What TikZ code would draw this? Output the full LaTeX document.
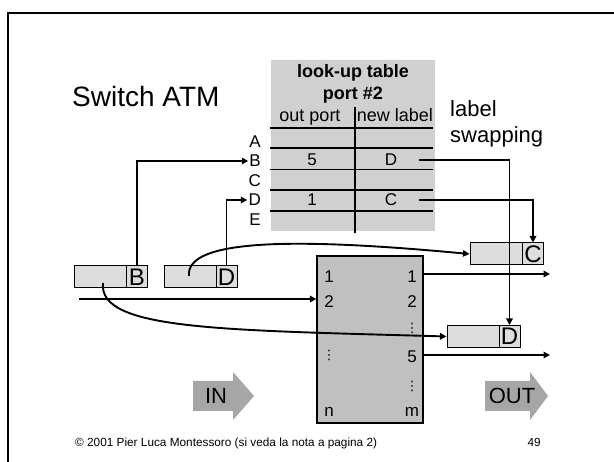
\documentclass[tikz,border=0pt]{standalone}
\usepackage{fontspec}
\setmainfont{Liberation Sans}
\newfontfamily\dejavu{DejaVu Sans}
\usetikzlibrary{arrows.meta}
\definecolor{tabgray}{RGB}{208,208,208}
\definecolor{swgray}{RGB}{192,192,192}
\definecolor{cellgray}{RGB}{221,221,221}
\definecolor{arrgray}{RGB}{166,166,166}
\begin{document}
\begin{tikzpicture}[x=1pt,y=-1pt,
  conn/.style={line width=1.9pt,-{Triangle[length=6.5pt,width=6.5pt]}},
  body/.style={draw,fill=cellgray,line width=1pt,minimum height=22pt,inner sep=0pt},
  tagbox/.style={draw,fill=cellgray,line width=1pt,minimum height=22pt,minimum width=21pt,inner sep=0pt,font=\fontsize{24}{24}\selectfont},
  lbl/.style={inner sep=0pt,font=\fontsize{17}{17}\selectfont},
  dots/.style={inner sep=0pt,font=\dejavu\fontsize{13}{13}\selectfont},
  letter/.style={inner sep=1pt,anchor=east,font=\fontsize{17}{17}\selectfont},
  hdr/.style={inner sep=0pt,anchor=base,font=\fontsize{18}{18}\selectfont},
  tline/.style={line width=1.5pt}]
\useasboundingbox (0,0) rectangle (614,462);
% frame
\draw[line width=2pt] (8,462) -- (8,13) -- (614,13);
% title
\node[anchor=base west,inner sep=0pt,font=\fontsize{28}{28}\selectfont] (title) at (72,107) {Switch ATM};
% look-up table
\node[fill=tabgray,minimum width=164pt,minimum height=171pt,inner sep=0pt] (tab) at (353,145.5) {};
\node[hdr,font=\bfseries\fontsize{18}{18}\selectfont] (h1) at (353,78) {look-up table};
\node[hdr,font=\bfseries\fontsize{18}{18}\selectfont] (h2) at (353,100) {port \#2};
\node[hdr] (h3) at (310,122) {out port};
\node[hdr] (h4) at (395,122) {new label};
\foreach \yy in {128,148,169.5,190,211} \draw[tline] (270,\yy) -- (433,\yy);
\draw[tline] (355,107) -- (355,233);
\node[lbl] (p5) at (312,159.5) {5};
\node[lbl] (nD) at (391,159.5) {D};
\node[lbl] (p1) at (312,200) {1};
\node[lbl] (nC) at (391,200) {C};
\node[letter] (lA) at (262,141.5) {A};
\node[letter] (lB) at (262,161) {B};
\node[letter] (lC) at (262,180.5) {C};
\node[letter] (lD) at (262,200) {D};
\node[letter] (lE) at (262,219.5) {E};
\node[anchor=base west,inner sep=0pt,font=\fontsize{22}{22}\selectfont] (sw1) at (450,117) {label};
\node[anchor=base west,inner sep=0pt,font=\fontsize{22}{22}\selectfont] (sw2) at (450,143) {swapping};
% cells
\node[body,minimum width=53pt] (bodyB) at (100.5,277) {};
\node[tagbox] (tagB) at (137,277) {B};
\node[body,minimum width=52pt] (bodyD) at (190,277) {};
\node[tagbox] (tagD) at (226.5,277) {D};
\node[body,minimum width=52pt] (bodyC) at (496,254) {};
\node[tagbox] (tagC) at (533,254) {C};
\node[body,minimum width=52pt] (bodyD2) at (473,336.5) {};
\node[tagbox] (tagD2) at (509.5,336.5) {D};
% switch
\node[draw,fill=swgray,line width=1.3pt,minimum width=106pt,minimum height=167pt,inner sep=0pt] (sw) at (370,339.5) {};
\node[lbl,anchor=base] (i1) at (329,283) {1};
\node[lbl,anchor=base] (i2) at (329,308) {2};
\node[dots] (idots) at (329,355) {⋮};
\node[lbl,anchor=base] (in) at (329,417) {n};
\node[lbl,anchor=base] (o1) at (412,283) {1};
\node[lbl,anchor=base] (o2) at (412,308) {2};
\node[dots] (odots1) at (412,328) {⋮};
\node[lbl,anchor=base] (o5) at (412,363) {5};
\node[dots] (odots2) at (412,386) {⋮};
\node[lbl,anchor=base] (om) at (412,417) {m};
% coordinates
\coordinate (sD) at (419,160);
\coordinate (sC) at (419,200);
\coordinate (inl) at (79,299);
\coordinate (startB) at (103,283);
\coordinate (startD) at (189,276);
\coordinate (out1) at (550,274);
\coordinate (out5) at (550,355);
% connectors
\draw[conn] (tagB.north) |- (lB.west);
\draw[conn] (tagD.north) |- (lD.west);
\draw[conn] (sD) -| (tagD2.north);
\draw[conn] (sC) -| (tagC.north);
\draw[conn] (inl) -- (inl -| sw.west);
\draw[conn] (out1 -| sw.east) -- (out1);
\draw[conn] (out5 -| sw.east) -- (out5);
\draw[conn] (startD) .. controls (185,238) and (300,238) .. (bodyC.west);
\draw[conn] (startB) .. controls (98,330) and (220,330) .. (bodyD2.west);
% IN / OUT arrows
\fill[arrgray] (193,381) -- (233,381) -- (233,372) -- (254,396) -- (233,420) -- (233,411) -- (193,411) -- cycle;
\node[inner sep=0pt,font=\fontsize{22}{22}\selectfont] (IN) at (216,396) {IN};
\fill[arrgray] (485,381) -- (530,381) -- (530,372) -- (548,396) -- (530,420) -- (530,411) -- (485,411) -- cycle;
\node[inner sep=0pt,font=\fontsize{22}{22}\selectfont] (OUT) at (512,396) {OUT};
% footer
\node[anchor=base west,inner sep=0pt,font=\fontsize{11.8}{11.8}\selectfont] (foot) at (75,447) {© 2001 Pier Luca Montessoro (si veda la nota a pagina 2)};
\node[anchor=base east,inner sep=0pt,font=\fontsize{11.8}{11.8}\selectfont] (pg) at (541,447) {49};
\end{tikzpicture}
\end{document}
